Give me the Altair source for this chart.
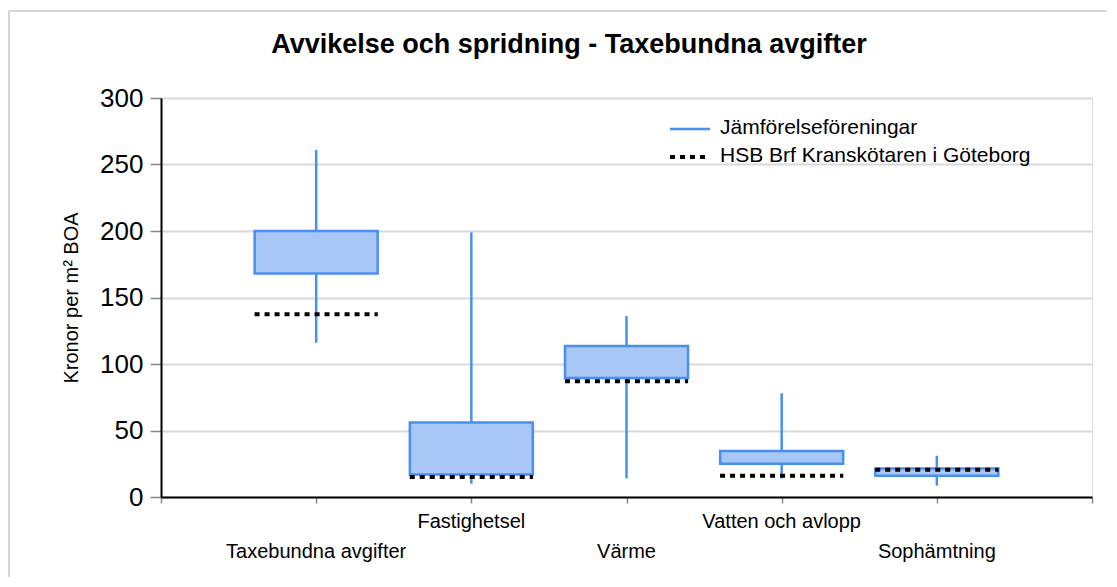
import altair as alt
import pandas as pd

categories = ["Taxebundna avgifter", "Fastighetsel", "Värme", "Vatten och avlopp", "Sophämtning"]
whisker_low = [116, 10, 14, 14, 8.5]
box_low = [168, 17, 89.5, 25, 16]
box_high = [200, 56, 113.5, 34.5, 21.5]
whisker_high = [261, 199, 136, 78, 31]
hsb_value = [137.5, 15, 87, 16, 20.5]
label_row = [2, 1, 2, 1, 2]
series_names = ["Jämförelseföreningar", "HSB Brf Kranskötaren i Göteborg"]
title_text = "Avvikelse och spridning - Taxebundna avgifter"
y_title = "Kronor per m² BOA"

df = pd.DataFrame({
    "cat": categories,
    "idx": list(range(1, len(categories) + 1)),
    "lo": whisker_low,
    "q1": box_low,
    "q3": box_high,
    "hi": whisker_high,
    "hsb": hsb_value,
    "row": label_row,
})

FONT = "Liberation Sans"
BLUE = "#4a8ff0"
FILL = "#a8c6f6"
HALF = 0.397

x_scale = alt.Scale(domain=[0, 6], nice=False, zero=False, padding=0)
y_scale = alt.Scale(domain=[0, 300], nice=False, padding=0)

base = alt.Chart(df)

frame = base.mark_rect(fill="transparent", stroke="#d6d6d6", strokeWidth=2).encode(
    x=alt.value(-152), x2=alt.value(1200), y=alt.value(-87), y2=alt.value(700)
).transform_filter("datum.idx == 1")

whisker = base.mark_rule(color=BLUE, strokeWidth=2.5).encode(
    x=alt.X("idx:Q", scale=x_scale,
            axis=alt.Axis(values=[0, 1, 2, 3, 4, 5, 6], labels=False, title=None,
                          domainColor="black", domainWidth=2, tickColor="#888888",
                          tickSize=6, tickWidth=1.5, grid=False)),
    y=alt.Y("lo:Q", scale=y_scale,
            axis=alt.Axis(values=[0, 50, 100, 150, 200, 250, 300], title=y_title,
                          titleFont=FONT, titleFontSize=20, titleFontWeight="normal",
                          titleColor="black", titlePadding=18,
                          labelFont=FONT, labelFontSize=26, labelColor="black",
                          labelPadding=7, domainColor="black", domainWidth=2,
                          tickColor="#888888", tickSize=11, tickWidth=1.5,
                          grid=True, gridColor="#d9d9d9", gridWidth=2)),
    y2="hi:Q",
)

box = base.mark_bar(size=123, fill=FILL, stroke=BLUE, strokeWidth=2.5).encode(
    x=alt.X("idx:Q", scale=x_scale),
    y=alt.Y("q1:Q", scale=y_scale),
    y2="q3:Q",
)

hsb = base.transform_calculate(
    x1=f"datum.idx - {HALF}", x2=f"datum.idx + {HALF}"
).mark_rule(color="black", strokeWidth=4, strokeDash=[5, 5], strokeCap="butt").encode(
    x=alt.X("x1:Q", scale=x_scale),
    x2="x2:Q",
    y=alt.Y("hsb:Q", scale=y_scale),
)

label_top = base.transform_filter("datum.row == 1").mark_text(
    font=FONT, fontSize=20, color="black", baseline="middle", align="center"
).encode(x=alt.X("idx:Q", scale=x_scale), y=alt.value(424), text="cat:N")

label_bottom = base.transform_filter("datum.row == 2").mark_text(
    font=FONT, fontSize=20, color="black", baseline="middle", align="center"
).encode(x=alt.X("idx:Q", scale=x_scale), y=alt.value(454), text="cat:N")

leg = pd.DataFrame({"name": series_names, "k": [0, 1]})
leg_base = alt.Chart(leg)
leg_line = leg_base.transform_filter("datum.k == 0").mark_rule(
    color=BLUE, strokeWidth=2.5
).encode(x=alt.value(509), x2=alt.value(549), y=alt.value(31))
leg_dot = leg_base.transform_filter("datum.k == 1").mark_rule(
    color="black", strokeWidth=4, strokeDash=[5, 5], strokeCap="butt"
).encode(x=alt.value(509), x2=alt.value(549), y=alt.value(59))
leg_text1 = leg_base.transform_filter("datum.k == 0").mark_text(
    font=FONT, fontSize=21, color="black", align="left", baseline="middle"
).encode(x=alt.value(559), y=alt.value(30), text="name:N")
leg_text2 = leg_base.transform_filter("datum.k == 1").mark_text(
    font=FONT, fontSize=21, color="black", align="left", baseline="middle"
).encode(x=alt.value(559), y=alt.value(58), text="name:N")

title = leg_base.transform_filter("datum.k == 0").mark_text(
    font=FONT, fontSize=27, fontWeight="bold", color="black", align="center", baseline="middle"
).encode(x=alt.value(408), y=alt.value(-53), text=alt.value(title_text))

chart = alt.layer(
    frame, whisker, box, hsb, label_top, label_bottom,
    leg_line, leg_dot, leg_text1, leg_text2, title
).properties(
    width=931, height=399,
    autosize=alt.AutoSizeParams(type="none"),
    padding={"left": 153, "top": 90, "right": 15, "bottom": 80},
).configure_view(stroke=None).configure(background="white")

chart.save("out.html", embed_options={"renderer": "svg", "actions": False})
